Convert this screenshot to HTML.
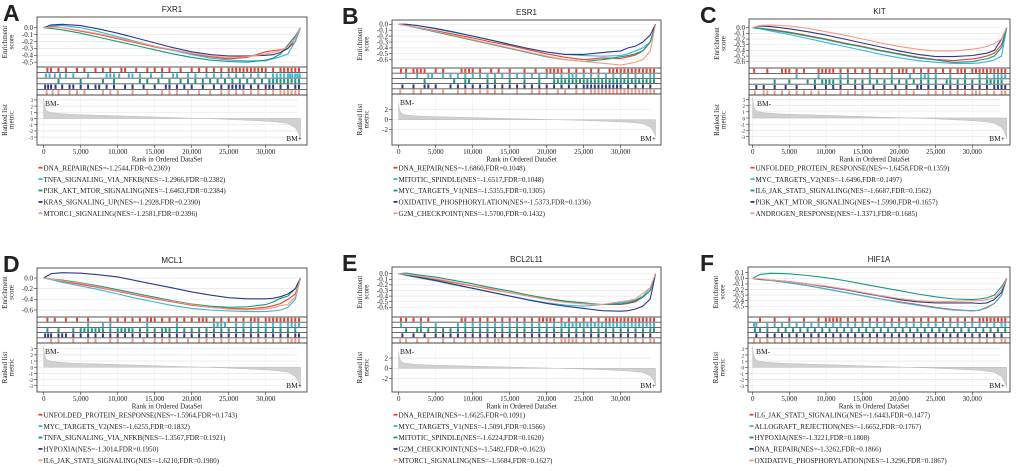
<!DOCTYPE html>
<html><head><meta charset="utf-8"><style>
html,body{margin:0;padding:0;background:#fff;}
svg{display:block;}
text{font-family:"Liberation Serif",serif;fill:#222;}
.sans{font-family:"Liberation Sans",sans-serif;}
</style></head><body>
<svg id="fig" width="1020" height="471" viewBox="0 0 1020 471" xmlns="http://www.w3.org/2000/svg"></svg>
<script>
// ---- shared data ----
const rankGrid = [0,1,2.5,5,7.5,10,12.5,15,17.5,20,22.5,25,27.5,30,31,32,33,34,34.7]; // thousands
const metricRanks = [0,0.1,0.3,0.6,1,2,4,8,12,16,20,24,28,31,33,34,34.4,34.7];
const metricVals = [3.3,2,1.4,1.1,0.95,0.8,0.65,0.5,0.35,0.2,0.05,-0.1,-0.3,-0.5,-0.8,-1.5,-2.3,-3.3];
const xTicks = [0,5000,10000,15000,20000,25000,30000];
const xTickLabels = ["0","5,000","10,000","15,000","20,000","25,000","30,000"];
const colors = ["#e8402a","#3cb5d6","#16987c","#2b3a8a","#f59a82"];

// ---- panel titles & legends ----
const titles = ["FXR1","ESR1","KIT","MCL1","BCL2L11","HIF1A"];
const letters = ["A","B","C","D","E","F"];
const legendA = ["DNA_REPAIR(NES=-1.2544,FDR=0.2369)","TNFA_SIGNALING_VIA_NFKB(NES=-1.2966,FDR=0.2382)","PI3K_AKT_MTOR_SIGNALING(NES=-1.6463,FDR=0.2384)","KRAS_SIGNALING_UP(NES=-1.2928,FDR=0.2390)","MTORC1_SIGNALING(NES=-1.2581,FDR=0.2396)"];
const legendB = ["DNA_REPAIR(NES=-1.6860,FDR=0.1048)","MITOTIC_SPINDLE(NES=-1.6517,FDR=0.1048)","MYC_TARGETS_V1(NES=-1.5355,FDR=0.1305)","OXIDATIVE_PHOSPHORYLATION(NES=-1.5373,FDR=0.1336)","G2M_CHECKPOINT(NES=-1.5700,FDR=0.1432)"];
const legendC = ["UNFOLDED_PROTEIN_RESPONSE(NES=-1.6458,FDR=0.1359)","MYC_TARGETS_V2(NES=-1.6496,FDR=0.1497)","IL6_JAK_STAT3_SIGNALING(NES=-1.6687,FDR=0.1562)","PI3K_AKT_MTOR_SIGNALING(NES=-1.5990,FDR=0.1657)","ANDROGEN_RESPONSE(NES=-1.3371,FDR=0.1685)"];
const legendD = ["UNFOLDED_PROTEIN_RESPONSE(NES=-1.5964,FDR=0.1743)","MYC_TARGETS_V2(NES=-1.6255,FDR=0.1832)","TNFA_SIGNALING_VIA_NFKB(NES=-1.3567,FDR=0.1921)","HYPOXIA(NES=-1.3014,FDR=0.1950)","IL6_JAK_STAT3_SIGNALING(NES=-1.6210,FDR=0.1980)"];
const legendE = ["DNA_REPAIR(NES=-1.6625,FDR=0.1091)","MYC_TARGETS_V1(NES=-1.5091,FDR=0.1566)","MITOTIC_SPINDLE(NES=-1.6224,FDR=0.1620)","G2M_CHECKPOINT(NES=-1.5482,FDR=0.1623)","MTORC1_SIGNALING(NES=-1.5684,FDR=0.1627)"];
const legendF = ["IL6_JAK_STAT3_SIGNALING(NES=-1.6443,FDR=0.1477)","ALLOGRAFT_REJECTION(NES=-1.6652,FDR=0.1767)","HYPOXIA(NES=-1.3221,FDR=0.1808)","DNA_REPAIR(NES=-1.3262,FDR=0.1866)","OXIDATIVE_PHOSPHORYLATION(NES=-1.3296,FDR=0.1867)"];

// ---- running enrichment scores (at rankGrid) ----
const esA = [
[0,0.02,0.0,-0.05,-0.1,-0.16,-0.22,-0.28,-0.33,-0.38,-0.42,-0.45,-0.43,-0.35,-0.33,-0.32,-0.3,-0.2,0],
[0,0.03,0.03,0.0,-0.06,-0.13,-0.2,-0.27,-0.33,-0.39,-0.44,-0.47,-0.48,-0.48,-0.45,-0.42,-0.38,-0.2,0],
[0,-0.01,-0.03,-0.08,-0.14,-0.2,-0.26,-0.32,-0.38,-0.43,-0.47,-0.49,-0.5,-0.47,-0.44,-0.38,-0.25,-0.12,0],
[0,0.04,0.05,0.03,-0.02,-0.08,-0.15,-0.22,-0.29,-0.35,-0.39,-0.41,-0.41,-0.4,-0.39,-0.36,-0.3,-0.15,0],
[0,0.01,0.0,-0.04,-0.09,-0.15,-0.21,-0.27,-0.32,-0.37,-0.41,-0.43,-0.42,-0.38,-0.36,-0.33,-0.28,-0.15,0]];
const esB = [
[0,-0.02,-0.05,-0.11,-0.17,-0.23,-0.3,-0.36,-0.43,-0.5,-0.56,-0.6,-0.57,-0.58,-0.55,-0.52,-0.45,-0.3,0],
[0,0,-0.02,-0.08,-0.14,-0.2,-0.27,-0.34,-0.41,-0.47,-0.51,-0.53,-0.54,-0.53,-0.5,-0.45,-0.4,-0.3,0],
[0,-0.02,-0.06,-0.13,-0.2,-0.27,-0.34,-0.41,-0.48,-0.55,-0.6,-0.63,-0.6,-0.55,-0.53,-0.5,-0.45,-0.3,0],
[0,0,-0.02,-0.07,-0.13,-0.2,-0.27,-0.34,-0.41,-0.47,-0.51,-0.51,-0.48,-0.45,-0.4,-0.37,-0.3,-0.18,0],
[0,-0.02,-0.05,-0.12,-0.19,-0.26,-0.33,-0.4,-0.47,-0.54,-0.6,-0.63,-0.66,-0.69,-0.67,-0.64,-0.6,-0.45,0]];
const esC = [
[0,-0.01,-0.03,-0.08,-0.14,-0.2,-0.27,-0.33,-0.4,-0.46,-0.52,-0.56,-0.58,-0.55,-0.53,-0.5,-0.45,-0.3,0],
[0,-0.02,-0.06,-0.12,-0.19,-0.26,-0.33,-0.4,-0.47,-0.53,-0.58,-0.61,-0.63,-0.63,-0.62,-0.6,-0.57,-0.5,0],
[0,-0.01,-0.04,-0.09,-0.15,-0.21,-0.28,-0.34,-0.41,-0.47,-0.53,-0.57,-0.61,-0.6,-0.57,-0.55,-0.5,-0.35,0],
[0,0.03,0.02,-0.02,-0.07,-0.13,-0.2,-0.27,-0.34,-0.41,-0.47,-0.51,-0.51,-0.49,-0.47,-0.45,-0.4,-0.2,0],
[0,0.04,0.05,0.03,-0.01,-0.07,-0.13,-0.2,-0.27,-0.33,-0.38,-0.41,-0.41,-0.38,-0.36,-0.33,-0.28,-0.2,0]];
const esD = [
[0,-0.02,-0.06,-0.12,-0.18,-0.25,-0.32,-0.39,-0.45,-0.51,-0.55,-0.57,-0.58,-0.55,-0.52,-0.48,-0.4,-0.3,0],
[0,-0.03,-0.08,-0.15,-0.22,-0.3,-0.38,-0.45,-0.52,-0.57,-0.6,-0.62,-0.63,-0.63,-0.62,-0.6,-0.55,-0.4,0],
[0,-0.02,-0.04,-0.09,-0.15,-0.22,-0.29,-0.36,-0.43,-0.49,-0.53,-0.55,-0.54,-0.5,-0.45,-0.38,-0.34,-0.2,0],
[0,0.08,0.1,0.09,0.06,0.02,-0.05,-0.12,-0.19,-0.26,-0.32,-0.37,-0.39,-0.39,-0.38,-0.35,-0.3,-0.2,0],
[0,-0.02,-0.05,-0.1,-0.17,-0.24,-0.31,-0.38,-0.44,-0.5,-0.55,-0.58,-0.6,-0.58,-0.56,-0.52,-0.5,-0.35,0]];
const esE = [
[0,-0.02,-0.05,-0.1,-0.16,-0.22,-0.28,-0.34,-0.4,-0.46,-0.5,-0.54,-0.55,-0.55,-0.53,-0.5,-0.42,-0.3,0],
[0,-0.03,-0.07,-0.13,-0.2,-0.26,-0.33,-0.4,-0.46,-0.52,-0.56,-0.58,-0.55,-0.52,-0.5,-0.47,-0.4,-0.25,0],
[0,0.01,-0.02,-0.06,-0.12,-0.18,-0.25,-0.31,-0.38,-0.44,-0.49,-0.52,-0.55,-0.54,-0.52,-0.48,-0.42,-0.3,0],
[0,-0.02,-0.06,-0.12,-0.19,-0.26,-0.33,-0.4,-0.47,-0.53,-0.58,-0.62,-0.66,-0.67,-0.66,-0.63,-0.58,-0.45,0],
[0,-0.01,-0.04,-0.09,-0.15,-0.21,-0.27,-0.34,-0.4,-0.46,-0.51,-0.54,-0.55,-0.5,-0.48,-0.45,-0.35,-0.25,0]];
const esF = [
[0,-0.02,-0.04,-0.08,-0.13,-0.19,-0.25,-0.31,-0.37,-0.42,-0.47,-0.52,-0.56,-0.58,-0.57,-0.52,-0.45,-0.3,0],
[0,-0.02,-0.04,-0.08,-0.13,-0.19,-0.25,-0.31,-0.37,-0.43,-0.48,-0.53,-0.57,-0.58,-0.57,-0.53,-0.45,-0.3,0],
[0,0.07,0.09,0.08,0.05,0.01,-0.04,-0.1,-0.16,-0.22,-0.28,-0.33,-0.37,-0.38,-0.37,-0.35,-0.3,-0.15,0],
[0,-0.02,-0.03,-0.06,-0.1,-0.15,-0.2,-0.26,-0.32,-0.38,-0.42,-0.44,-0.44,-0.44,-0.45,-0.44,-0.38,-0.25,0],
[0,-0.01,-0.03,-0.06,-0.1,-0.14,-0.19,-0.25,-0.31,-0.36,-0.4,-0.42,-0.41,-0.4,-0.4,-0.38,-0.35,-0.2,0]];

// ---- hit positions (thousands) ----
const hitsA = [
"0.5 1 2 3 4.5 5.5 7 8 9 10.5 11 12.5 14 15 16 17 18.5 20 21 22 23 24 25 25.5 26 26.5 27 27.5 28 28.5 29 29.5 30 31 32 32.5 33 33.5 34 34.5",
"0.3 0.8 1.5 2.2 3 4 6 8.5 9 9.5 10.2 11.5 12 13 14.5 16 17.5 18 19.5 20.5 22 23 24 25 26 27 28 29 30 31 31.5 32 32.5 33 33.3 33.6 34 34.3 34.6",
"2 5 8 9.5 13 14 15.5 17 18.5 19.5 20.5 21.5 22.5 23.5 24.5 25.5 26.5 27.5 28.5 29.5 30.5 31 31.5 32 32.5 33 33.5 34 34.5",
"0.2 0.6 1 1.6 2.5 3.5 4 5 6 7 7.5 8.5 9.5 11 12 13.5 15 16.5 17 18 19 20 21.5 23 24 25 25.5 26 26.5 27 28 29 30 30.5 31 32 33 34 34.5",
"0.4 1.2 2 3.5 4.5 5.5 8 9 10 12 14 16 17 18 19.5 21 22.5 24 25 26 27 28 29 30 31 32 32.5 33 33.5 34 34.5"];
const hitsB = [
"0.3 1 2 2.5 3 3.5 5 6 8.5 9 9.5 10 11 12.5 13.5 15 17 18.5 20 20.5 21 21.5 22 23 24 25 26 27 28.5 29 29.5 30 30.5 31 31.5 32 32.5 33 33.5 34 34.5",
"1 2.5 4 4.5 6 7 8 9 10 11 12 13 14 15 16 17 18 19 20 21 22 23 23.5 24 25 26 27 28 29 30 31 32 33 34 34.5",
"3.5 7.5 9 9.5 12 13 15 17 19 21 21.5 22 22.5 23 23.5 24 24.5 25 25.5 26 26.5 27 27.5 28 28.5 29 29.5 30 30.5 31 31.5 32 32.5 33 33.5 34 34.5",
"0.5 2 3.5 4 5 7 8 9 10 11 12 13 14 15 16 17 18 19 20 21 22 23 24 25 25.5 26 26.5 27 27.5 28 28.5 29 29.5 30 31 32 33 34",
"0.2 2 3 4.5 6 8 9 10 11 12 13 14 16 18 19 20 21.5 22.5 24 25 26 26.5 27 27.5 28 28.5 29 29.5 30 30.5 31 31.5 32 32.5 33 33.5 34 34.5"];
const hitsC = [
"0.2 2 4 4.5 5 6 7 9 9.5 10 10.5 11 12 13 14 15 16 17 18 19 20 20.5 21 22 23 24 25 26 27 28 28.5 29 30 30.5 31 31.5 32 32.5 33 33.5 34 34.5",
"6 9 12 13 16 19 21.5 23 23.5 24 25 27 29 31 32 33 33.5 34 34.5",
"3 5 7.5 8.5 9.5 10 10.5 11 12 13 14 15 16 17 18 19 20 21 22 23 24 25 26.5 27 28 29 30 31 32 32.5 33 33.5 34",
"0.5 1.5 3 4.5 6 8.5 10 11 12 14 15 16.5 18 19.5 21 22.5 23 24 25 26 27 28 29 30 31 32 33 33.5 34 34.5",
"0.3 1.5 2 3 4 5 6 7 8 9 10 12 13 14 15 16 17 18 19 20 21 22 24 25 26 27 28 29 30 30.5 31 32 33 34 34.5"];
const hitsD = [
"0.5 1.5 3 4.5 6 9 10 11 12 13 14 14.5 15 16 17 18 19 20 21 21.5 22 23 24 25 26 27 28 28.5 29 30 30.5 31 31.5 32 32.5 33 33.5 34 34.5",
"6 8 9 14 18 23 23.5 24 24.5 26 27 28 29 30 31 32 33 33.5 34 34.5",
"0.5 2 4 5 5.5 6 6.5 7 7.5 8 9 10 10.5 11 11.5 12 13 14 15 16 16.5 17 18 19 20 21 22 23 24 25 26 27 28 29 30 31 32 33 34",
"0.2 0.6 1 2 2.5 3 4 5 6 7 8 9 10 11 12 13 14 15 16 17 18 19 20 21 22 23 24 25 26 27 28 29 30 31 32 33 34 34.5",
"1 2 4 6 7 9 10 12 13.5 15 16 17 18 19.5 21 22 23 24 25 26 27 28 29 30 31 32 33 33.5 34 34.5"];
const hitsE = [
"0.3 1 2 3 4 8.5 9 10 11 12 13 14 15 16 17 18 19 19.5 20 20.5 21 22 23 24 25 26 27 28 28.5 29 29.5 30 30.5 31 31.5 32 32.5 33 33.5 34 34.5",
"0.3 3 5 8 9 10 11 12 13 14 15 16 17 18 19 20 21 22 22.5 23 23.5 24 24.5 25 25.5 26 26.5 27 27.5 28 28.5 29 29.5 30 30.5 31 31.5 32 32.5 33 33.5 34 34.5",
"1 2.5 3 4 5 6 7 8 9 10 11 12 13 14 15 16 17 18 19 20 21 22 23 24 25 26 27 28 29 30 31 32 33 34 34.5",
"0.5 2 3.5 5 6 7 8 9 10 11 12 13 14 15 16 17 18 19 20 21 22 23 24 25 26 27 28 29 30 31 32 33 34",
"0.2 1 2.5 4 6 7.5 9 10 11 12 13 13.5 14 15 16 17 18 19 20 21 22 22.5 23 23.5 24 25 26 27 28 29 30 31 32 33 34 34.5"];
const hitsF = [
"1 3 5 7 9 10 10.5 11 11.5 12 13 14 15 16 17 18 19 20 21 22 23 24 25 26 27 28 29 30 31 31.5 32 32.5 33 33.5 34 34.5",
"0.2 0.5 2 3 4 5 6 7 8 9 10 11 12 13 14 15 16 17 18 19 20 21 22 23 24 25 26 27 28 29 30 31 32 33 34 34.5",
"0.3 1 2 3.5 4.5 5.5 6.5 7.5 8.5 9.5 10.5 11.5 12.5 13.5 14.5 15.5 16.5 17.5 18.5 19.5 20.5 21.5 22.5 23.5 24.5 25.5 26.5 27.5 28.5 29.5 30.5 31.5 32.5 33.5 34.5",
"0.5 2 3 4 5 6 7 8 9 10 11 12 13 14 15 16 17 18 19 20 21 22 23 24 25 26 27 28 29 30 31 32 33 34",
"0.2 1 2 3 4 5 6 7 8 9 10 11 12 13 14 15 16 17 18 19 20 21 22 23 24 25 26 27 28 29 30 31 32 33 34 34.5"];

const esTicksA=[0,-0.1,-0.2,-0.3,-0.4,-0.5], esTicksB=[0,-0.1,-0.2,-0.3,-0.4,-0.5,-0.6], esTicksD=[0,-0.2,-0.4,-0.6], esTicksF=[0.1,0,-0.1,-0.2,-0.3,-0.4,-0.5];
const metTicks7=[3,2,1,0,-1,-2,-3], metTicks3=[2,0,-2];

const panels = [
 {L:37,R:307,top:17,esB:67,hitsB:95,metB:145,x0:43.7,k:7.4,esY0:27.7,esU:69,esT:esTicksA,mZ:118.5,mU:6.2,mT:metTicks7,lx:3,es:esA,hits:hitsA,leg:legendA},
 {L:392,R:661,top:20,esB:68,hitsB:94,metB:145,x0:398.7,k:7.4,esY0:24.3,esU:59,esT:esTicksB,mZ:119.7,mU:5,mT:metTicks3,lx:342,es:esB,hits:hitsB,leg:legendB},
 {L:749,R:1010,top:19,esB:68,hitsB:95,metB:145,x0:752.7,k:7.32,esY0:27.7,esU:56.7,esT:esTicksB,mZ:118,mU:6.2,mT:metTicks7,lx:700,es:esC,hits:hitsC,leg:legendC},
 {L:37,R:307,top:268,esB:317,hitsB:343,metB:392,x0:43.7,k:7.4,esY0:278,esU:53.3,esT:esTicksD,mZ:367.2,mU:6.17,mT:metTicks7,lx:3,es:esD,hits:hitsD,leg:legendD},
 {L:392,R:661,top:267,esB:317,hitsB:343,metB:392,x0:398.7,k:7.4,esY0:273.7,esU:56,esT:esTicksB,mZ:368.3,mU:5.1,mT:metTicks3,lx:342,es:esE,hits:hitsE,leg:legendE},
 {L:748,R:1010,top:267,esB:317,hitsB:343,metB:392,x0:752.7,k:7.32,esY0:278.3,esU:56,esT:esTicksF,mZ:367.3,mU:6.17,mT:metTicks7,lx:700,es:esF,hits:hitsF,leg:legendF}
];

const NS="http://www.w3.org/2000/svg";
const svg=document.getElementById('fig');
function mk(tag,attrs,parent){const e=document.createElementNS(NS,tag);for(const a in attrs)e.setAttribute(a,attrs[a]);(parent||svg).appendChild(e);return e;}
function txt(s,attrs,parent){const e=mk('text',attrs,parent);e.textContent=s;return e;}
function fmt(v){return (Math.abs(v)<1e-9?"0.0":v.toFixed(1));}

panels.forEach((p,pi)=>{
  const g=mk('g',{});
  
  
  const xs=r=>p.x0+r*p.k;
  const ys=v=>p.esY0-v*p.esU;
  const ym=v=>p.mZ-v*p.mU;
  const lt=txt(letters[pi],{x:p.lx,y:p.top+4,'font-size':23,'font-weight':'bold',class:'sans',fill:'#000'},g);
  
  
  const tt=txt(titles[pi],{x:(p.L+p.R)/2,y:p.top-5,'font-size':8,class:'sans','text-anchor':'middle'},g);
  
  
  p.esT.forEach(v=>{
    const y=ys(v);
    mk('line',{x1:p.L,x2:p.R-10,y1:y,y2:y,stroke:'#e6e6e6','stroke-width':0.7},g);
    mk('line',{x1:p.L-3,x2:p.L,y1:y,y2:y,stroke:'#333','stroke-width':0.6},g);
    const t=txt(fmt(v),{x:p.L-4,y:y+2.3,'font-size':7,'text-anchor':'end'},g);
    
    
  });
  p.es.forEach((arr,si)=>{
    const d=arr.map((v,i)=>(i?'L':'M')+xs(rankGrid[i]).toFixed(1)+','+ys(v).toFixed(1)).join('');
    const path=mk('path',{d:d,fill:'none',stroke:colors[si],'stroke-width':1.1},g);
    
    
  });
  const rowH=(p.hitsB-p.esB)/5;
  p.hits.forEach((s,si)=>{
    const y0=p.esB+si*rowH;
    s.split(' ').map(Number).forEach(r=>{
      const h=mk('line',{x1:xs(r),x2:xs(r),y1:y0+0.8,y2:y0+rowH-0.5,stroke:colors[si],'stroke-width':2},g);
      
      
    });
  });
  for(let i=0;i<=5;i++){const y=p.esB+i*rowH;mk('line',{x1:p.L,x2:p.R,y1:y,y2:y,stroke:'#555','stroke-width':0.9},g);}
  p.mT.forEach(v=>{
    const y=ym(v);
    mk('line',{x1:p.L,x2:p.R-10,y1:y,y2:y,stroke:'#e6e6e6','stroke-width':0.7},g);
    mk('line',{x1:p.L-3,x2:p.L,y1:y,y2:y,stroke:'#333','stroke-width':0.6},g);
    const t=txt(String(v),{x:p.L-4,y:y+2.3,'font-size':p.mT.length>3?5:7,'text-anchor':'end'},g);
    
    
  });
  xTicks.forEach(v=>mk('line',{x1:xs(v/1000),x2:xs(v/1000),y1:p.hitsB,y2:p.metB,stroke:'#eee','stroke-width':0.6},g));
  let d='M'+xs(0)+','+ym(0);
  metricRanks.forEach((r,i)=>{d+='L'+xs(r).toFixed(1)+','+ym(metricVals[i]).toFixed(1);});
  d+='L'+xs(metricRanks[metricRanks.length-1]).toFixed(1)+','+ym(0)+'Z';
  const area=mk('path',{d:d,fill:'#d0d0d0',stroke:'#bbb','stroke-width':0.5},g);
  
  
  const bm1=txt('BM-',{x:p.L+8,y:p.hitsB+11,'font-size':7.5},g);
  
  
  const bm2=txt('BM+',{x:p.R-5,y:p.metB-4,'font-size':7.5,'text-anchor':'end'},g);
  
  
  const box=mk('rect',{x:p.L,y:p.top,width:p.R-p.L,height:p.metB-p.top,fill:'none',stroke:'#444','stroke-width':0.9},g);
  
  
  mk('line',{x1:p.L,x2:p.R,y1:p.hitsB,y2:p.hitsB,stroke:'#444','stroke-width':0.9},g);
  xTicks.forEach((v,i)=>{
    const x=xs(v/1000);
    mk('line',{x1:x,x2:x,y1:p.metB,y2:p.metB+3,stroke:'#333','stroke-width':0.6},g);
    const t=txt(xTickLabels[i],{x:x,y:p.metB+9,'font-size':7,'text-anchor':'middle'},g);
    
    
  });
  const xl=txt('Rank in Ordered DataSet',{x:(p.L+p.R)/2-5,y:p.metB+16.5,'font-size':7,'text-anchor':'middle'},g);
  
  
  const cyE=(p.top+p.esB)/2, cyM=(p.hitsB+p.metB)/2, lx=p.L-30;
  const y1=txt('Enrichment',{x:0,y:0,'font-size':7,'text-anchor':'middle',transform:`translate(${lx},${cyE}) rotate(-90)`},g);
  
  
  txt('score',{x:0,y:0,'font-size':7,'text-anchor':'middle',transform:`translate(${lx+6.5},${cyE}) rotate(-90)`},g);
  const y2=txt('Ranked list',{x:0,y:0,'font-size':7,'text-anchor':'middle',transform:`translate(${lx},${cyM}) rotate(-90)`},g);
  
  
  txt('metric',{x:0,y:0,'font-size':7,'text-anchor':'middle',transform:`translate(${lx+6.5},${cyM}) rotate(-90)`},g);
  p.leg.forEach((s,i)=>{
    const y=p.metB+23+i*11.4;
    const e=mk('g',{},g);
    
    
    mk('line',{x1:p.L+1.5,x2:p.L+5.5,y1:y-0.3,y2:y-0.3,stroke:colors[i],'stroke-width':1.8},e);
    txt(s,{x:p.L+6.5,y:y+2.4,'font-size':7.1},e);
  });
});
</script>
</body></html>
